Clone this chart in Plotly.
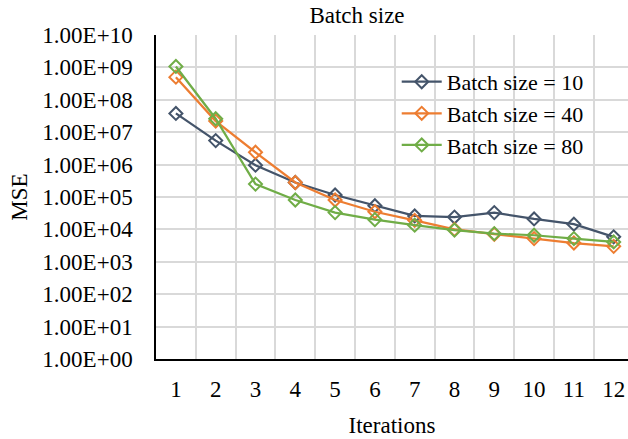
import plotly.graph_objects as go

iterations = list(range(1, 13))
tick_vals = [10**k for k in range(0, 11)]
tick_text = ["1.00E+%02d" % k for k in range(0, 11)]

batch10 = [3.8e7, 5.5e6, 9.6e5, 2.8e5, 1.15e5, 5.4e4, 2.6e4, 2.4e4, 3.3e4, 2.1e4, 1.45e4, 5.9e3]
batch40 = [5.0e8, 2.2e7, 2.4e6, 2.8e5, 8.1e4, 3.5e4, 1.9e4, 1.0e4, 7.1e3, 5.2e3, 3.8e3, 3.0e3]
batch80 = [1.07e9, 2.6e7, 2.5e5, 8.1e4, 3.3e4, 2.0e4, 1.35e4, 9.5e3, 7.4e3, 6.6e3, 5.2e3, 4.1e3]

series = [
    ("Batch size = 10", batch10, "#44546A"),
    ("Batch size = 40", batch40, "#ED7D31"),
    ("Batch size = 80", batch80, "#70AD47"),
]

FONT = "Times New Roman, Liberation Serif, DejaVu Serif, serif"
FS = 23
fig = go.Figure()
for name, vals, col in series:
    fig.add_trace(go.Scatter(
        x=iterations, y=vals, name=name, mode="lines+markers",
        line=dict(color=col, width=2.25),
        marker=dict(symbol="diamond-open", size=10, color=col, line=dict(width=2, color=col)),
    ))

fig.update_layout(
    width=628, height=439,
    margin=dict(l=156, r=0, t=35, b=80),
    paper_bgcolor="white", plot_bgcolor="white",
    font=dict(family=FONT, size=FS, color="black"),
    title=dict(text="Batch size", x=357/628, xanchor="center", y=1-15/439, yanchor="middle",
               font=dict(family=FONT, size=FS, color="black")),
    legend=dict(x=0.51, y=0.92, xanchor="left", yanchor="top", bgcolor="rgba(0,0,0,0)",
                font=dict(family=FONT, size=22), itemwidth=40, tracegroupgap=0),
    showlegend=True,
)
fig.update_xaxes(
    range=[0.5, 12.36], tickmode="array", tickvals=iterations,
    ticktext=[str(i) for i in iterations], showgrid=False, zeroline=False,
    showline=True, linecolor="black", linewidth=1.5, ticks="",
    ticklabelstandoff=9,
    minor=dict(tick0=0.5, dtick=1, showgrid=True, gridcolor="#D9D9D9", gridwidth=1.5, ticks=""),
    title=dict(text="Iterations", font=dict(family=FONT, size=FS), standoff=16),
)
fig.update_yaxes(
    type="log", range=[0, 10], tickmode="array", tickvals=tick_vals, ticktext=tick_text,
    showgrid=True, gridcolor="#D9D9D9", gridwidth=1.5, zeroline=False,
    showline=True, linecolor="black", linewidth=1.5, ticks="",
    ticklabelstandoff=17,
    title=dict(text="MSE", font=dict(family=FONT, size=FS), standoff=8),
)
fig.write_html("out.html")
